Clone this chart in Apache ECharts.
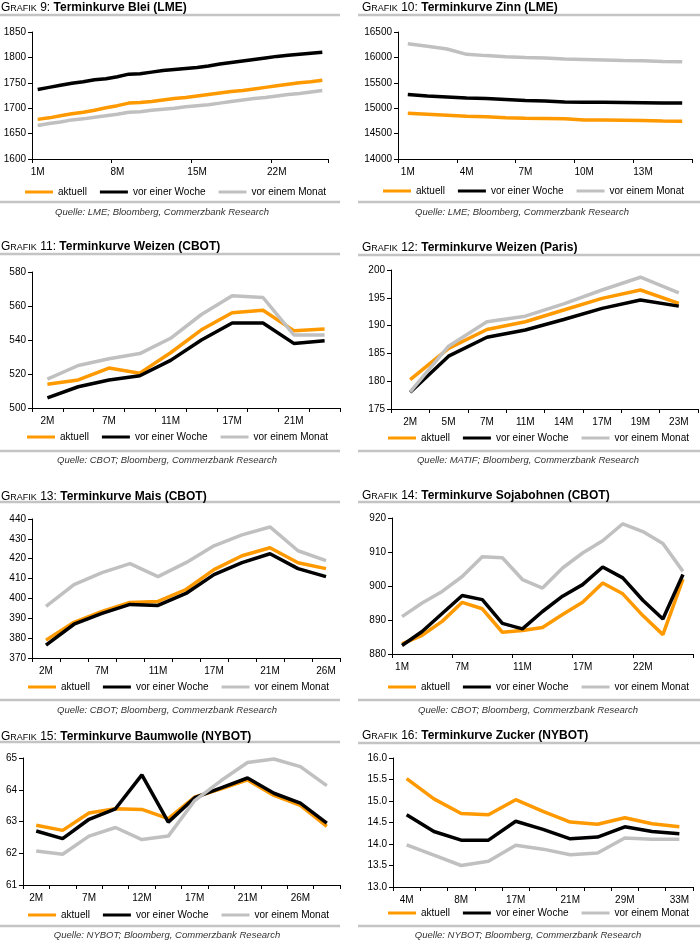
<!DOCTYPE html>
<html><head><meta charset="utf-8">
<script src="https://cdn.jsdelivr.net/npm/echarts/dist/echarts.min.js"></script>
<style>html,body{margin:0;padding:0;background:#fff}#c{width:700px;height:940px}</style>
</head><body><div id="c"></div>
<script>
// ---------- DATA ----------
const seriesNames = ['aktuell', 'vor einer Woche', 'vor einem Monat'];

const bleiCats = ['1M','2M','3M','4M','5M','6M','7M','8M','9M','10M','11M','12M','13M','14M','15M','16M','17M','18M','19M','20M','21M','22M','23M','24M','25M','26M'];
const bleiAktuell = [1678,1681,1685,1689,1692,1696,1701,1705,1710,1711,1713,1716,1719,1721,1724,1727,1730,1733,1735,1738,1741,1744,1747,1750,1752,1755];
const bleiWoche   = [1737,1741,1745,1749,1752,1756,1758,1762,1767,1768,1771,1774,1776,1778,1780,1783,1787,1790,1793,1796,1799,1802,1804,1806,1808,1810];
const bleiMonat   = [1666,1670,1673,1677,1679,1682,1685,1688,1692,1693,1696,1698,1700,1703,1705,1707,1710,1713,1716,1719,1721,1724,1727,1729,1732,1735];

const zinnCats = ['1M','2M','3M','4M','5M','6M','7M','8M','9M','10M','11M','12M','13M','14M','15M'];
const zinnAktuell = [14900,14880,14860,14840,14830,14810,14800,14795,14790,14770,14770,14765,14760,14750,14745];
const zinnWoche   = [15270,15240,15220,15200,15190,15170,15150,15140,15120,15115,15115,15110,15105,15100,15100];
const zinnMonat   = [16270,16220,16165,16060,16035,16015,16000,15990,15970,15960,15950,15940,15935,15920,15915];

const weizenCbotCats = ['2M','4M','7M','9M','11M','14M','17M','19M','21M','23M'];
const weizenCbotAktuell = [514,516.5,523.5,520.5,532.5,546,556,557.5,545.5,546.5];
const weizenCbotWoche   = [506,512.5,516.5,519,528,540,550,550,538,539.5];
const weizenCbotMonat   = [517,525,529,532,541,555,566,565,543,543];

const weizenParisCats = ['2M','5M','7M','11M','14M','17M','19M','23M'];
const weizenParisAktuell = [180.3,185.9,189.3,190.7,192.8,194.9,196.4,194.0];
const weizenParisWoche   = [178.0,184.5,187.9,189.2,191.1,193.1,194.6,193.5];
const weizenParisMonat   = [178.1,186.3,190.7,191.7,193.9,196.4,198.7,195.9];

const maisCats = ['2M','4M','7M','9M','11M','14M','17M','19M','21M','24M','26M'];
const maisAktuell = [379,388,393.5,398,398.5,404.5,414.5,421.5,425.5,418,415];
const maisWoche   = [376.5,387,392.5,397,396.5,402.5,412,418,422.5,415,411];
const maisMonat   = [396,407,413,417.5,411,418,426.5,432,436,424,419];

const sojaCats = ['1M','3M','5M','7M','8M','10M','11M','13M','15M','17M','19M','21M','22M','24M','26M'];
const sojaAktuell = [883,885.5,889.6,895.2,893.3,886.4,886.9,887.8,891.6,895.2,900.9,897.7,891.3,885.7,902];
const sojaWoche   = [882.5,886.6,891.9,897.2,896,889,887.4,892.5,897,900.4,905.6,902.4,895.8,890.3,903.4];
const sojaMonat   = [891,895,898.4,902.8,908.6,908.3,901.9,899.4,905.3,909.7,913.3,918.3,916,912.5,904.3];

const baumCats = ['2M','4M','7M','9M','12M','14M','17M','19M','21M','24M','26M','28M'];
const baumAktuell = [62.88,62.72,63.27,63.40,63.38,63.09,63.77,64.03,64.31,63.82,63.51,62.85];
const baumWoche   = [62.70,62.46,63.07,63.40,64.47,62.98,63.75,64.06,64.37,63.89,63.58,62.95];
const baumMonat   = [62.07,61.97,62.54,62.81,62.43,62.54,63.66,64.29,64.86,64.97,64.73,64.13];

const zuckerCats = ['4M','6M','8M','12M','17M','19M','21M','25M','29M','31M','33M'];
const zuckerAktuell = [15.52,15.05,14.71,14.68,15.03,14.76,14.51,14.46,14.61,14.47,14.40];
const zuckerWoche   = [14.68,14.29,14.09,14.09,14.53,14.34,14.12,14.16,14.40,14.29,14.24];
const zuckerMonat   = [13.98,13.74,13.50,13.60,13.97,13.88,13.75,13.79,14.14,14.11,14.11];

// ---------- PANEL DEFINITIONS ----------
const panels = [
  {num:'9',  title:'Terminkurve Blei (LME)', src:'Quelle: LME; Bloomberg, Commerzbank Research',
   cats:bleiCats, data:[bleiAktuell,bleiWoche,bleiMonat], min:1600,max:1850,step:50,dec:0,lab:6,tick:6},
  {num:'10', title:'Terminkurve Zinn (LME)', src:'Quelle: LME; Bloomberg, Commerzbank Research',
   cats:zinnCats, data:[zinnAktuell,zinnWoche,zinnMonat], min:14000,max:16500,step:500,dec:0,lab:2,tick:2},
  {num:'11', title:'Terminkurve Weizen (CBOT)', src:'Quelle: CBOT; Bloomberg, Commerzbank Research',
   cats:weizenCbotCats, data:[weizenCbotAktuell,weizenCbotWoche,weizenCbotMonat], min:500,max:580,step:20,dec:0,lab:1,tick:0},
  {num:'12', title:'Terminkurve Weizen (Paris)', src:'Quelle: MATIF; Bloomberg, Commerzbank Research',
   cats:weizenParisCats, data:[weizenParisAktuell,weizenParisWoche,weizenParisMonat], min:175,max:200,step:5,dec:0,lab:0,tick:0},
  {num:'13', title:'Terminkurve Mais (CBOT)', src:'Quelle: CBOT; Bloomberg, Commerzbank Research',
   cats:maisCats, data:[maisAktuell,maisWoche,maisMonat], min:370,max:440,step:10,dec:0,lab:1,tick:0},
  {num:'14', title:'Terminkurve Sojabohnen (CBOT)', src:'Quelle: CBOT; Bloomberg, Commerzbank Research',
   cats:sojaCats, data:[sojaAktuell,sojaWoche,sojaMonat], min:880,max:920,step:10,dec:0,lab:2,tick:2},
  {num:'15', title:'Terminkurve Baumwolle (NYBOT)', src:'Quelle: NYBOT; Bloomberg, Commerzbank Research',
   cats:baumCats, data:[baumAktuell,baumWoche,baumMonat], min:61,max:65,step:1,dec:0,lab:1,tick:0},
  {num:'16', title:'Terminkurve Zucker (NYBOT)', src:'Quelle: NYBOT; Bloomberg, Commerzbank Research',
   cats:zuckerCats, data:[zuckerAktuell,zuckerWoche,zuckerMonat], min:13,max:16,step:0.5,dec:1,lab:1,tick:0}
];

// layout (pixel positions)
const layout = [
  {grid:[32,32,296,127],  titleX:1,   titleY:6,   sepTop:15,  legX:25,  legY:193, sepBot:202, srcX:162, srcY:212, col:0},
  {grid:[398,32,294,127], titleX:362, titleY:6,   sepTop:15,  legX:383, legY:192, sepBot:202, srcX:522, srcY:212, col:1},
  {grid:[32,272,308,136], titleX:1,   titleY:245, sepTop:254, legX:27,  legY:438, sepBot:451, srcX:167, srcY:460, col:0},
  {grid:[391,270,307,139],titleX:362, titleY:246, sepTop:255, legX:388, legY:439, sepBot:451, srcX:528, srcY:460, col:1},
  {grid:[32,519,308,139], titleX:1,   titleY:495, sepTop:502, legX:28,  legY:688, sepBot:700, srcX:167, srcY:710, col:0},
  {grid:[392,518,301,136],titleX:362, titleY:494, sepTop:502, legX:388, legY:688, sepBot:700, srcX:528, srcY:710, col:1},
  {grid:[23,758,317,127], titleX:1,   titleY:735, sepTop:742, legX:28,  legY:916, sepBot:926, srcX:167, srcY:935, col:0},
  {grid:[393,758,300,129],titleX:362, titleY:734, sepTop:743, legX:388, legY:914, sepBot:926, srcX:528, srcY:935, col:1}
];

const colors = ['#FF9900', '#000000', '#C0C0C0'];
const FONT = '"Liberation Sans", Arial, sans-serif';

const option = {
  animation: false,
  backgroundColor: '#fff',
  textStyle: {fontFamily: FONT},
  title: [], legend: [], grid: [], xAxis: [], yAxis: [], series: [], graphic: []
};

panels.forEach((p, i) => {
  const L = layout[i];
  option.title.push({
    text: '{g|G}{s|RAFIK}{g| ' + p.num + ': }{b|' + p.title + '}',
    left: L.titleX, top: L.titleY - 4, padding: 0,
    textStyle: {
      fontWeight: 'normal',
      rich: {
        g: {fontSize: 12, fontFamily: FONT, fontWeight: 'normal', color: '#000', verticalAlign: 'bottom'},
        s: {fontSize: 9, fontFamily: FONT, fontWeight: 'normal', color: '#000', verticalAlign: 'bottom', padding: [0,0,1,0]},
        b: {fontSize: 12, fontFamily: FONT, fontWeight: 'bold', color: '#000', verticalAlign: 'bottom'}
      }
    }
  });
  option.grid.push({left: L.grid[0], top: L.grid[1], width: L.grid[2], height: L.grid[3], outerBoundsMode: 'none', containLabel: false});
  option.xAxis.push({
    type: 'category', gridIndex: i, data: p.cats, boundaryGap: true,
    axisLine: {lineStyle: {color: '#000', width: 1}},
    axisTick: {show: true, length: 4, interval: p.tick, lineStyle: {color: '#000'}},
    axisLabel: {interval: p.lab, color: '#000', fontSize: 10, fontFamily: FONT, margin: 8},
    splitLine: {show: false}
  });
  option.yAxis.push({
    type: 'value', gridIndex: i, min: p.min, max: p.max, interval: p.step,
    axisLine: {show: true, lineStyle: {color: '#000', width: 1}},
    axisTick: {show: true, length: 4, lineStyle: {color: '#000'}},
    axisLabel: {color: '#000', fontSize: 10, fontFamily: FONT, margin: 6,
      formatter: v => v.toFixed(p.dec)},
    splitLine: {show: false}
  });
  p.data.forEach((arr, k) => {
    option.series.push({
      type: 'line', name: seriesNames[k], xAxisIndex: i, yAxisIndex: i,
      data: arr, showSymbol: false, symbol: 'none', smooth: false,
      lineStyle: {color: colors[k], width: 3.5}, itemStyle: {color: colors[k]},
      z: 2 + k
    });
  });
  option.legend.push({
    data: seriesNames, left: L.legX, top: L.legY - 6, padding: 0,
    icon: 'rect', itemWidth: 28, itemHeight: 3, itemGap: 13,
    textStyle: {fontSize: 10, color: '#000', fontFamily: FONT}
  });
  const sx = L.col === 0 ? 0 : 358;
  const sw = L.col === 0 ? 340 : 342;
  option.graphic.push({type: 'rect', shape: {x: sx, y: L.sepTop - 1.25, width: sw, height: 2.5}, style: {fill: '#C4C4C4'}, silent: true});
  option.graphic.push({type: 'rect', shape: {x: sx, y: L.sepBot - 1.25, width: sw, height: 2.5}, style: {fill: '#C4C4C4'}, silent: true});
  option.graphic.push({type: 'text', x: L.srcX, y: L.srcY, silent: true,
    style: {text: p.src, textAlign: 'center', textVerticalAlign: 'middle', align: 'center', verticalAlign: 'middle',
      fontSize: 9.5, fontStyle: 'italic', fontFamily: FONT, fill: '#333'}});
});

const chart = echarts.init(document.getElementById('c'), null, {renderer: 'canvas'});
chart.setOption(option);
</script>
</body></html>
